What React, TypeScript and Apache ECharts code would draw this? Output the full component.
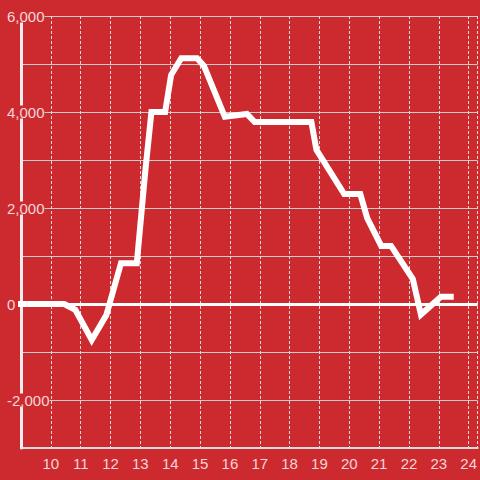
import React, { useEffect, useRef } from "react";
import * as echarts from "echarts";

const xValues = [9, 10.45, 10.82, 11.37, 11.86, 12.35, 12.88, 13.17, 13.37, 13.83, 14.03, 14.37, 14.9, 15.13, 15.83, 16.57, 16.83, 18.73, 18.9, 19.83, 20.37, 20.6, 21.07, 21.4, 22.13, 22.4, 23.07, 23.4];
const yValues = [0, 0, -120, -750, -230, 850, 850, 2800, 4000, 4000, 4770, 5120, 5120, 4960, 3900, 3960, 3790, 3790, 3210, 2290, 2290, 1790, 1210, 1210, 520, -220, 150, 150];

const BG = "#cd2a2f";
const LABEL = "#f4d6d7";
const FONT = "'Liberation Sans', Arial, sans-serif";

export default function App() {
  const ref = useRef<HTMLDivElement>(null);
  useEffect(() => {
    if (!ref.current) return;
    const chart = echarts.init(ref.current, null, { renderer: "svg" });
    const yCommon = { type: "value", min: -3000, max: 6000, interval: 1000, position: "left", offset: 0 };
    chart.setOption({
      animation: false,
      backgroundColor: BG,
      textStyle: { fontFamily: FONT },
      grid: { left: 21, right: 0, top: 16, bottom: 32 },
      xAxis: {
        type: "value",
        min: 9,
        max: 24.3,
        interval: 1,
        axisLine: { show: true, onZero: false, lineStyle: { color: "#dddddd", width: 2 } },
        axisTick: { show: false },
        axisLabel: {
          color: LABEL,
          fontSize: 15,
          fontFamily: FONT,
          margin: 8,
          showMinLabel: false,
          showMaxLabel: false,
          formatter: (v: number) => (Number.isInteger(v) ? String(v) : ""),
        },
        splitLine: { show: true, lineStyle: { color: "#dddddd", width: 1, type: [3, 2] } },
      },
      yAxis: [
        {
          ...yCommon,
          z: 0,
          axisLine: { show: false },
          axisTick: { show: false },
          axisLabel: { show: false },
          splitLine: { show: true, lineStyle: { color: "#cccccc", width: 1 } },
        },
        {
          ...yCommon,
          z: 1,
          axisLine: { show: true, lineStyle: { color: "#eeeeee", width: 3 } },
          axisTick: { show: false },
          splitLine: { show: false },
          axisLabel: {
            align: "left",
            margin: 14,
            color: LABEL,
            fontSize: 15,
            fontFamily: FONT,
            backgroundColor: BG,
            lineHeight: 13,
            formatter: (v: number) => (v % 2000 === 0 ? v.toLocaleString("en-US") : ""),
          },
        },
      ],
      series: [
        {
          type: "line",
          yAxisIndex: 0,
          data: xValues.map((x, i) => [x, yValues[i]]),
          showSymbol: false,
          symbol: "none",
          lineStyle: { color: "#ffffff", width: 6, cap: "square", join: "miter" },
          markLine: {
            silent: true,
            symbol: ["none", "none"],
            label: { show: false },
            lineStyle: { color: "#ffffff", width: 3, type: "solid" },
            data: [{ yAxis: 0 }],
          },
        },
      ],
    });
    return () => chart.dispose();
  }, []);
  return <div ref={ref} style={{ position: "fixed", left: 0, top: 0, width: 480, height: 480 }} />;
}
